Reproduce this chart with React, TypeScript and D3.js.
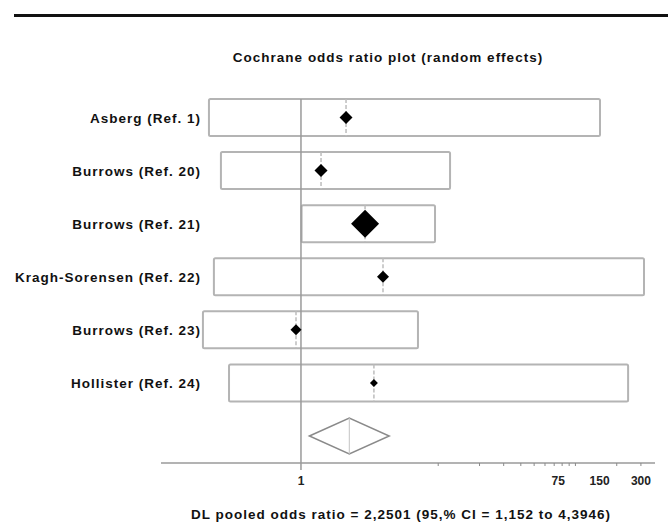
import React, { useEffect, useRef } from 'react';
import * as d3 from 'd3';

const studies = [
  'Asberg (Ref. 1)',
  'Burrows (Ref. 20)',
  'Burrows (Ref. 21)',
  'Kragh-Sorensen (Ref. 22)',
  'Burrows (Ref. 23)',
  'Hollister (Ref. 24)',
];
const oddsRatio = [2.13, 1.4, 2.93, 3.96, 0.92, 3.4];
const ciLow = [0.2135, 0.261, 1.01, 0.232, 0.193, 0.299];
const ciHigh = [151, 12.2, 9.48, 316, 7.12, 242];
const weights = [11.6, 11.7, 54.1, 9.9, 8.3, 4.4];

const pooled = { or: 2.2501, low: 1.152, high: 4.3946 };
const tickLabels = [1, 75, 150, 300];

const title = 'Cochrane odds ratio plot (random effects)';
const footer = 'DL pooled odds ratio = 2,2501 (95,% CI = 1,152 to 4,3946)';

const W = 668;
const H = 522;

const App = () => {
  const ref = useRef<SVGSVGElement | null>(null);

  useEffect(() => {
    const svg = d3.select(ref.current);
    svg.selectAll('*').remove();

    const font = '"Liberation Sans", Arial, sans-serif';
    const fs = 13.5;
    const ls = 1;

    const x = d3.scaleLog().domain([0.0955, 380]).range([161, 655]);
    const y = d3.scalePoint<string>()
      .domain([...studies, 'pooled'])
      .range([117.5, 436]);
    const size = d3.scaleSqrt().domain([0, d3.max(weights) as number]).range([0, 14]);
    const boxH = 37;
    const axisY = 463;

    // top rule
    svg.append('line')
      .attr('x1', 14).attr('x2', W)
      .attr('y1', 15.5).attr('y2', 15.5)
      .attr('stroke', '#111').attr('stroke-width', 3);

    svg.append('text')
      .attr('x', 388).attr('y', 62)
      .attr('text-anchor', 'middle')
      .attr('font-family', font).attr('font-weight', 'bold')
      .attr('font-size', fs).attr('letter-spacing', ls)
      .attr('fill', '#111')
      .text(title);

    const rows = studies.map((s, i) => ({
      name: s, or: oddsRatio[i], lo: ciLow[i], hi: ciHigh[i], w: weights[i],
    }));

    // CI boxes
    svg.selectAll('rect.ci')
      .data(rows)
      .enter()
      .append('rect')
      .attr('class', 'ci')
      .attr('x', d => x(d.lo))
      .attr('y', d => (y(d.name) as number) - boxH / 2)
      .attr('width', d => x(d.hi) - x(d.lo))
      .attr('height', boxH)
      .attr('rx', 1.5)
      .attr('fill', 'none')
      .attr('stroke', '#b4b4b4')
      .attr('stroke-width', 2);

    // point lines inside boxes
    svg.selectAll('line.pt')
      .data(rows)
      .enter()
      .append('line')
      .attr('x1', d => x(d.or)).attr('x2', d => x(d.or))
      .attr('y1', d => (y(d.name) as number) - boxH / 2)
      .attr('y2', d => (y(d.name) as number) + boxH / 2)
      .attr('stroke', '#bdbdbd')
      .attr('stroke-width', 1.5)
      .attr('stroke-dasharray', '4,2');

    // reference line at OR = 1
    svg.append('line')
      .attr('x1', x(1)).attr('x2', x(1))
      .attr('y1', (y(studies[0]) as number) - boxH / 2)
      .attr('y2', axisY + 7)
      .attr('stroke', '#9a9a9a')
      .attr('stroke-width', 1.5);

    // study diamonds
    svg.selectAll('path.mark')
      .data(rows)
      .enter()
      .append('path')
      .attr('class', 'mark')
      .attr('d', d => {
        const cx = x(d.or);
        const cy = y(d.name) as number;
        const r = size(d.w);
        return `M${cx - r},${cy}L${cx},${cy - r}L${cx + r},${cy}L${cx},${cy + r}Z`;
      })
      .attr('fill', '#000');

    // pooled diamond
    const py = y('pooled') as number;
    const ph = 18;
    svg.append('path')
      .attr('d', `M${x(pooled.low)},${py}L${x(pooled.or)},${py - ph}L${x(pooled.high)},${py}L${x(pooled.or)},${py + ph}Z`)
      .attr('fill', 'none')
      .attr('stroke', '#8a8a8a')
      .attr('stroke-width', 1.5);
    svg.append('line')
      .attr('x1', x(pooled.or)).attr('x2', x(pooled.or))
      .attr('y1', py - ph).attr('y2', py + ph)
      .attr('stroke', '#c4c4c4').attr('stroke-width', 1);

    // labels
    svg.selectAll('text.lab')
      .data(rows)
      .enter()
      .append('text')
      .attr('class', 'lab')
      .attr('x', 201)
      .attr('y', d => (y(d.name) as number) + 5)
      .attr('text-anchor', 'end')
      .attr('font-family', font).attr('font-weight', 'bold')
      .attr('font-size', fs).attr('letter-spacing', ls)
      .attr('fill', '#111')
      .text(d => d.name);

    // x axis
    const [r0, r1] = x.range();
    svg.append('line')
      .attr('x1', r0).attr('x2', r1)
      .attr('y1', axisY).attr('y2', axisY)
      .attr('stroke', '#9a9a9a').attr('stroke-width', 1.5);

    const minor = x.ticks().filter(t => t >= 10 && t <= 300);
    svg.selectAll('line.minor')
      .data(minor)
      .enter()
      .append('line')
      .attr('x1', d => x(d)).attr('x2', d => x(d))
      .attr('y1', axisY).attr('y2', axisY + 3)
      .attr('stroke', '#8a8a8a').attr('stroke-width', 1);

    svg.selectAll('text.tick')
      .data(tickLabels)
      .enter()
      .append('text')
      .attr('class', 'tick')
      .attr('x', d => x(d))
      .attr('y', 485)
      .attr('text-anchor', 'middle')
      .attr('font-family', font).attr('font-weight', 'bold')
      .attr('font-size', 12)
      .attr('fill', '#222')
      .text(d => d);

    svg.append('text')
      .attr('x', 401).attr('y', 519)
      .attr('text-anchor', 'middle')
      .attr('font-family', font).attr('font-weight', 'bold')
      .attr('font-size', fs).attr('letter-spacing', ls)
      .attr('fill', '#111')
      .text(footer);
  }, []);

  return (
    <svg
      ref={ref}
      width={W}
      height={H}
      style={{ position: 'absolute', left: 0, top: 0, background: '#fff' }}
    />
  );
};

export default App;
